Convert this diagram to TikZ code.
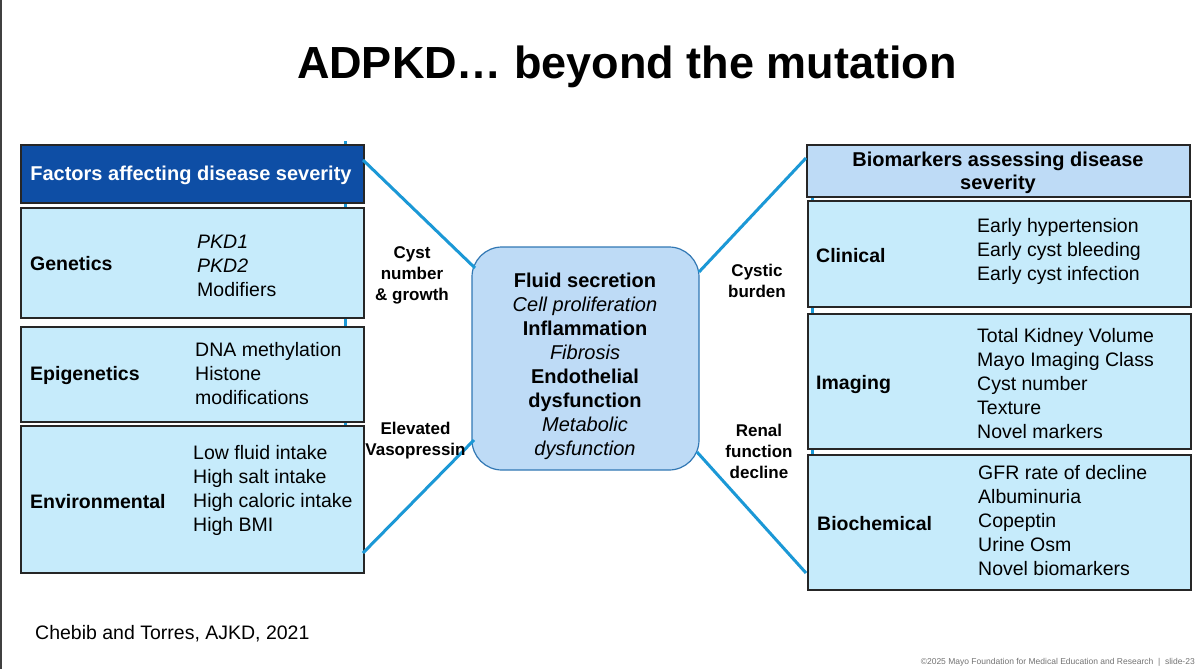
\documentclass[tikz,border=0pt]{standalone}
\usepackage{fontspec}
\setmainfont{Liberation Sans}
\definecolor{hdrblue}{RGB}{14,78,165}
\definecolor{lightbox}{RGB}{198,235,251}
\definecolor{midbox}{RGB}{190,219,246}
\definecolor{conn}{RGB}{27,152,214}
\definecolor{ctrborder}{RGB}{50,120,180}
\begin{document}
\begin{tikzpicture}[x=1pt,y=-1pt,
  panel/.style={draw=black!85, line width=1.5pt, fill=lightbox, inner sep=0pt, anchor=north west},
  catlabel/.style={font=\fontsize{19.5}{24}\selectfont\bfseries, anchor=west, inner sep=0pt},
  itemlist/.style={font=\fontsize{19.5}{24}\selectfont, align=left, anchor=west, inner sep=0pt},
  linklabel/.style={font=\fontsize{17}{21}\selectfont\bfseries, align=center, inner sep=0pt},
  link/.style={draw=conn, line width=3pt}
]
\useasboundingbox (0,0) rectangle (1200,669);
\fill[white] (0,0) rectangle (1200,669);
\fill[black!75] (0,0) rectangle (2,669);

% title
\node[font=\fontsize{45}{50}\selectfont\bfseries, inner sep=0pt] (title) at (627,67) {ADPKD… beyond the mutation};

% vertical spines behind panels
\coordinate (lvtop) at (345,141);
\coordinate (lvbot) at (345,560);
\coordinate (rvtop) at (812,150);
\coordinate (rvbot) at (812,585);
\draw[link] (lvtop) -- (lvbot);
\draw[link] (rvtop) -- (rvbot);

% left column
\node[panel, fill=hdrblue, minimum width=343pt, minimum height=58pt] (lhead) at (20,144) {};
\node[font=\fontsize{20}{24}\selectfont\bfseries, text=white, inner sep=0pt] (lheadtxt) at (191,175) {Factors affecting disease severity};
\node[panel, minimum width=343pt, minimum height=110pt] (gen) at (20,207) {};
\node[panel, minimum width=343pt, minimum height=95pt] (epi) at (20,326) {};
\node[panel, minimum width=343pt, minimum height=147pt] (env) at (20,425) {};

\node[catlabel] (genl) at (30,264) {Genetics};
\node[itemlist] (geni) at (197,266) {\textit{PKD1}\\\textit{PKD2}\\Modifiers};
\node[catlabel] (epil) at (30,375) {Epigenetics};
\node[itemlist] (epii) at (195,374) {DNA methylation\\Histone\\modifications};
\node[catlabel] (envl) at (30,502) {Environmental};
\node[itemlist] (envi) at (193,490) {Low fluid intake\\High salt intake\\High caloric intake\\High BMI};

% centre
\node[draw=ctrborder, line width=1.2pt, fill=midbox, rounded corners=30pt, minimum width=227pt, minimum height=223pt, inner sep=0pt] (ctr) at (585.5,358.5) {};
\node[font=\fontsize{20}{24}\selectfont, align=center, inner sep=0pt] (ctrtxt) at (585,366) {\textbf{Fluid secretion}\\\textit{Cell proliferation}\\\textbf{Inflammation}\\\textit{Fibrosis}\\\textbf{Endothelial}\\\textbf{dysfunction}\\\textit{Metabolic}\\\textit{dysfunction}};

% right column
\node[panel, fill=midbox, minimum width=383pt, minimum height=52pt] (rhead) at (806,144) {};
\node[font=\fontsize{20}{23.5}\selectfont\bfseries, align=center, inner sep=0pt] (rheadtxt) at (998,173) {Biomarkers assessing disease\\severity};
\node[panel, minimum width=383pt, minimum height=106pt] (clin) at (807,200) {};
\node[panel, minimum width=383pt, minimum height=135pt] (img) at (807,313) {};
\node[panel, minimum width=383pt, minimum height=135pt] (bio) at (807,454) {};

\node[catlabel] (clinl) at (816,256) {Clinical};
\node[itemlist] (clini) at (977,251) {Early hypertension\\Early cyst bleeding\\Early cyst infection};
\node[catlabel] (imgl) at (816,384) {Imaging};
\node[itemlist] (imgi) at (977,384) {Total Kidney Volume\\Mayo Imaging Class\\Cyst number\\Texture\\Novel markers};
\node[catlabel] (biol) at (817,524) {Biochemical};
\node[itemlist] (bioi) at (978,521) {GFR rate of decline\\Albuminuria\\Copeptin\\Urine Osm\\Novel biomarkers};

% connectors
\coordinate (l1a) at (363,160);
\coordinate (l1b) at (475,268);
\coordinate (l2a) at (363,553);
\coordinate (l2b) at (474,440);
\coordinate (r1a) at (699,272);
\coordinate (r1b) at (806,158);
\coordinate (r2a) at (697,452);
\coordinate (r2b) at (806,573);
\draw[link] (l1a) -- (l1b);
\draw[link] (l2a) -- (l2b);
\draw[link] (r1a) -- (r1b);
\draw[link] (r2a) -- (r2b);

\node[linklabel] (lab1) at (412,275) {Cyst\\number\\\& growth};
\node[linklabel] (lab2) at (415.5,441) {Elevated\\Vasopressin};
\node[linklabel] (lab3) at (757,281) {Cystic\\burden};
\node[linklabel] (lab4) at (759,451) {Renal\\function\\decline};

% footer
\node[font=\fontsize{19.5}{24}\selectfont, anchor=west, inner sep=0pt] (cite) at (35,634) {Chebib and Torres, AJKD, 2021};
\node[font=\fontsize{8.5}{10}\selectfont, text=black!55, anchor=east, inner sep=0pt] (copy) at (1195,662) {©2025 Mayo Foundation for Medical Education and Research \ | \ slide-23};
\end{tikzpicture}
\end{document}
